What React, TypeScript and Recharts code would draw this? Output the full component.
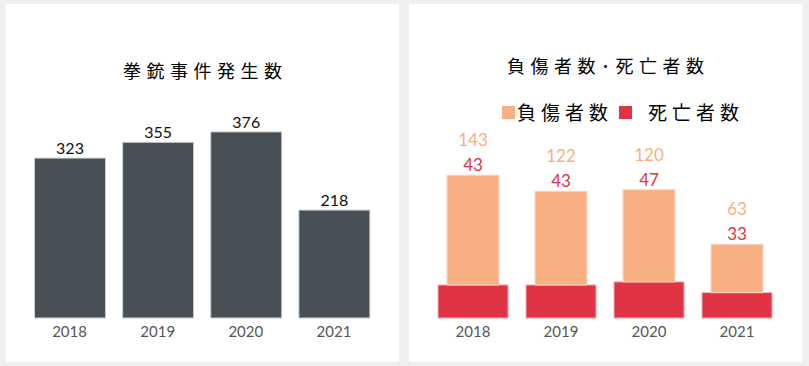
import React from 'react';
import { BarChart, Bar, XAxis, YAxis, LabelList, Legend, Rectangle } from 'recharts';

const years = ['2018', '2019', '2020', '2021'];
const incidents = [323, 355, 376, 218];
const injured = [143, 122, 120, 63];
const deaths = [43, 43, 47, 33];

const incidentData = years.map((year, i) => ({ year, incidents: incidents[i] }));
const casualtyData = years.map((year, i) => ({ year, injured: injured[i], deaths: deaths[i] }));

const DARK = '#485056';
const ORANGE = '#f8b083';
const RED = '#e03343';
const NUM_FONT = 'Lato, "Noto Sans", sans-serif';
const JP_FONT = '"Noto Sans CJK JP", sans-serif';

const panelStyle: React.CSSProperties = {
  position: 'absolute',
  top: 4,
  width: 393,
  height: 358,
  background: '#fff',
};

const titleStyle: React.CSSProperties = {
  position: 'absolute',
  left: 0,
  width: 393,
  boxSizing: 'border-box',
  textAlign: 'center',
  fontFamily: JP_FONT,
  fontSize: 18,
  lineHeight: '20px',
  fontWeight: 400,
  letterSpacing: 5.5,
  paddingLeft: 5.5,
  color: '#000',
};

const legendItems = [
  { label: '負傷者数', color: ORANGE, gap: 2 },
  { label: '死亡者数', color: RED, gap: 16 },
];

const CasualtyLegend = () => (
  <div style={{ display: 'flex', alignItems: 'center', fontFamily: JP_FONT, fontSize: 19, lineHeight: '22px' }}>
    {legendItems.map((item, i) => (
      <div key={item.label} style={{ display: 'flex', alignItems: 'center', marginLeft: i === 0 ? 0 : 6 }}>
        <span style={{ width: 13, height: 13, background: item.color, display: 'inline-block' }} />
        <span style={{ marginLeft: item.gap, letterSpacing: 5, color: '#000' }}>{item.label}</span>
      </div>
    ))}
  </div>
);

const NarrowBar = (props: any) => (
  <Rectangle {...props} x={props.x + 9} width={props.width - 18} />
);

const tickStyle = { fill: '#555', fontSize: 15, fontFamily: NUM_FONT };

export default function App() {
  return (
    <div style={{ position: 'absolute', top: 0, left: 0, width: 809, height: 366, background: '#efefef', overflow: 'hidden' }}>
      <div style={{ ...panelStyle, left: 6 }}>
        <BarChart width={393} height={358} data={incidentData} margin={{ top: 116, right: 21, bottom: 14, left: 19.5 }}>
          <XAxis dataKey="year" axisLine={false} tickLine={false} height={30} tick={tickStyle} />
          <YAxis hide domain={[0, 400]} />
          <Bar dataKey="incidents" fill={DARK} stroke="#ccd0d4" strokeWidth={1} barSize={71} isAnimationActive={false}>
            <LabelList dataKey="incidents" position="top" offset={4} fill="#111" fontSize={16} fontFamily={NUM_FONT} />
          </Bar>
        </BarChart>
        <div style={{ ...titleStyle, top: 56 }}>拳銃事件発生数</div>
      </div>

      <div style={{ ...panelStyle, left: 409 }}>
        <BarChart width={393} height={358} data={casualtyData} margin={{ top: 122, right: 21, bottom: 14, left: 20 }}>
          <XAxis dataKey="year" axisLine={false} tickLine={false} height={30} tick={tickStyle} />
          <YAxis hide domain={[0, 250]} />
          <Legend
            verticalAlign="middle"
            align="center"
            content={<CasualtyLegend />}
            wrapperStyle={{ top: 97, left: 93, width: 260 }}
          />
          <Bar dataKey="deaths" name="死亡者数" stackId="a" fill={RED} stroke="#f4a9b0" strokeWidth={1} barSize={70} isAnimationActive={false} />
          <Bar dataKey="injured" name="負傷者数" stackId="a" fill={ORANGE} stroke="#fcd6be" strokeWidth={1} barSize={70} shape={NarrowBar} isAnimationActive={false}>
            <LabelList dataKey="injured" position="top" offset={29} fill={ORANGE} fontSize={17} fontFamily={NUM_FONT} />
            <LabelList dataKey="deaths" position="top" offset={4} fill={RED} fontSize={17} fontFamily={NUM_FONT} />
          </Bar>
        </BarChart>
        <div style={{ ...titleStyle, top: 51 }}>負傷者数･死亡者数</div>
      </div>
    </div>
  );
}
